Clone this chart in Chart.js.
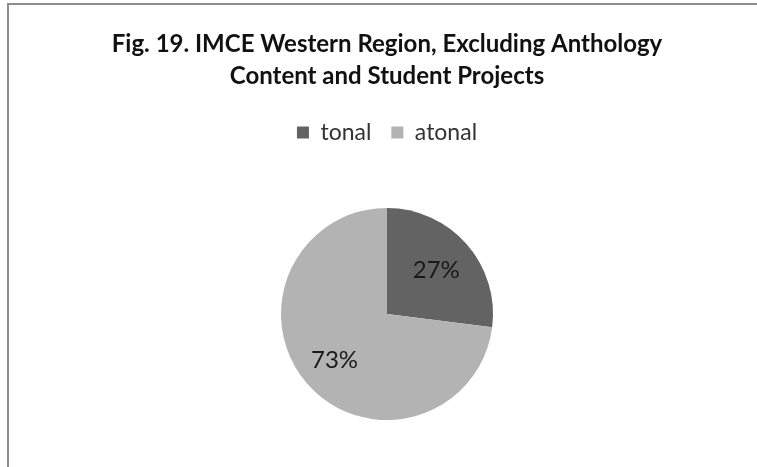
<!DOCTYPE html>
<html>
<head>
<meta charset="utf-8">
<script src="https://cdn.jsdelivr.net/npm/chart.js@4"></script>
<style>
  html, body { margin: 0; padding: 0; background: #fff; }
  #wrap { position: relative; width: 757px; height: 467px; overflow: hidden; }
  #frame { position: absolute; left: 7px; top: 3px; width: 760px; height: 480px;
           border-top: 2px solid #8c8c8c; border-left: 2px solid #8c8c8c; }
  canvas { position: absolute; left: 0; top: 0; }
</style>
</head>
<body>
<div id="wrap">
  <div id="frame"></div>
  <canvas id="pieChart" width="757" height="467"></canvas>
</div>
<script>
const categories = ['tonal', 'atonal'];
const shares = [27, 73];
const sliceColors = ['#636363', '#b3b3b3'];
const titleLines = ['Fig. 19. IMCE Western Region, Excluding Anthology', 'Content and Student Projects'];

const fontName = 'Lato, "Open Sans", sans-serif';

// push the pie down below the legend like the original
const legendGap = {
  id: 'legendGap',
  beforeInit(chart) {
    const fit = chart.legend.fit;
    chart.legend.fit = function () {
      fit.bind(chart.legend)();
      this.height += 54;
    };
  }
};

// percentage labels inside the slices
const sliceLabels = {
  id: 'sliceLabels',
  afterDatasetsDraw(chart) {
    const ctx = chart.ctx;
    const meta = chart.getDatasetMeta(0);
    const radial = [0.62, 0.66];
    ctx.save();
    ctx.font = '24px ' + fontName;
    ctx.fillStyle = '#1a1a1a';
    ctx.textAlign = 'center';
    ctx.textBaseline = 'middle';
    meta.data.forEach((arc, i) => {
      const mid = (arc.startAngle + arc.endAngle) / 2;
      const r = arc.outerRadius * radial[i];
      const x = arc.x + Math.cos(mid) * r;
      const y = arc.y + Math.sin(mid) * r;
      ctx.fillText(shares[i] + '%', x, y);
    });
    ctx.restore();
  }
};

new Chart(document.getElementById('pieChart').getContext('2d'), {
  type: 'pie',
  data: {
    labels: categories,
    datasets: [{
      data: shares,
      backgroundColor: sliceColors,
      borderWidth: 0
    }]
  },
  options: {
    responsive: false,
    animation: false,
    layout: { padding: { left: 17, right: 0, top: 0, bottom: 47 } },
    plugins: {
      title: {
        display: true,
        text: titleLines,
        color: '#111',
        font: { family: fontName, size: 24, weight: 'bold', lineHeight: '32px' },
        padding: { top: 28, bottom: 9 }
      },
      legend: {
        position: 'top',
        labels: {
          color: '#333',
          font: { family: fontName, size: 23 },
          boxWidth: 12,
          boxHeight: 12,
          padding: 20
        }
      },
      tooltip: { enabled: false }
    }
  },
  plugins: [legendGap, sliceLabels]
});
</script>
</body>
</html>
